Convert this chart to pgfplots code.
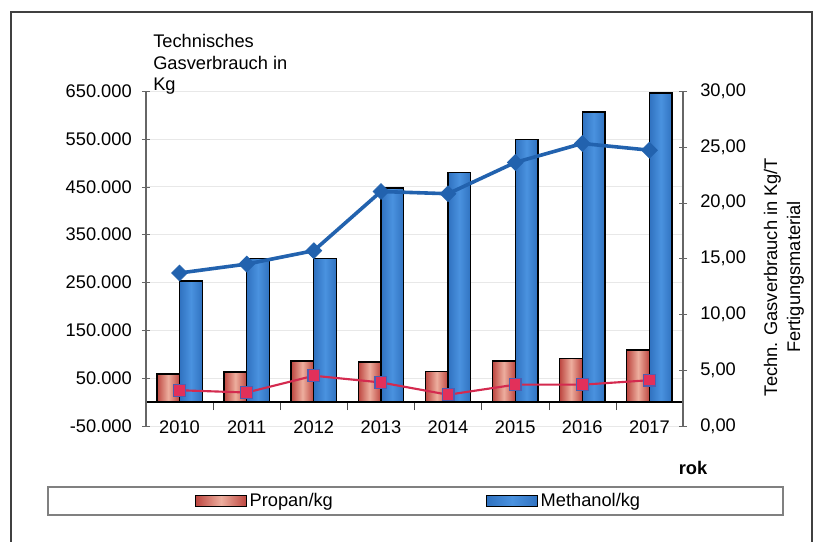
\documentclass[border=0pt]{standalone}
\usepackage{pgfplots}
\pgfplotsset{compat=1.18}
\usepackage{fontspec}
\setmainfont{Liberation Sans}
\definecolor{bbdark}{HTML}{3072C0}
\definecolor{bblight}{HTML}{4A92DF}
\definecolor{redout}{HTML}{BD4640}
\definecolor{redin}{HTML}{EDAE9E}
\definecolor{lineblue}{HTML}{2262AE}
\definecolor{linered}{HTML}{D42A4F}
\definecolor{markred}{HTML}{E2305A}
\definecolor{markedge}{HTML}{4F5DB0}
\newcommand{\ff}{\fontsize{13.7}{16.4}\selectfont}
\pgfplotsset{
  mylegend/.style={legend image code/.code={\draw[##1, line width=0.8pt] (0pt,-3.8pt) rectangle (38pt,3.8pt);}},
  redbar/.style={ybar, bar width=17pt, bar shift=-8.5pt, draw=black, line width=1pt,
    left color=redout, right color=redout, middle color=redin, mylegend},
  bluebar/.style={ybar, bar width=17pt, bar shift=8.5pt, draw=black, line width=1pt,
    left color=bbdark, right color=bbdark, middle color=bblight, mylegend},
}
\begin{document}
\begin{tikzpicture}[x=0.75pt,y=0.75pt]
\useasboundingbox (0,0) rectangle (817,542);
\fill[white] (0,0) rectangle (817,542);
\draw[black!75, line width=1.5pt] (11,-5) -- (11,530) -- (812,530) -- (812,-5);
\draw[black!50, line width=0.8pt] (48,55) rectangle (783,27);

\begin{axis}[
  at={(109.5pt,87pt)}, anchor=south west,
  width=402.75pt, height=251.25pt, scale only axis,
  xmin=-0.5, xmax=7.5, ymin=-50000, ymax=650000,
  axis y line*=left, axis x line*=middle,
  tick align=center,
  xtick={0,...,7}, xticklabels={2010,2011,2012,2013,2014,2015,2016,2017},
  minor xtick={0.5,1.5,...,6.5},
  major x tick style={draw=none},
  minor tick length=6pt,
  minor x tick style={black!70, yshift=-3pt},
  major tick length=6pt,
  ytick={-50000,50000,150000,250000,350000,450000,550000,650000},
  ytick style={black!60},
  scaled y ticks=false,
  /pgf/number format/assume math mode=true,
  /pgf/number format/fixed,
  /pgf/number format/1000 sep={.},
  yticklabel style={font=\ff, inner sep=0pt, xshift=-7.5pt},
  xticklabel style={font=\ff, inner sep=0pt, yshift=-10.5pt},
  y axis line style={black!60, line width=0.8pt},
  x axis line style={black, line width=0.9pt},
  ymajorgrids, major grid style={black!9, line width=0.5pt},
  legend style={at={(axis description cs:0.0912,-0.2239)}, anchor=west,
    draw=none, fill=none, inner sep=0pt, font=\ff,
    /tikz/every even column/.append style={column sep=113pt}},
  legend columns=2,
  clip=false,
]
% Propan/kg
\addplot[redbar] coordinates {(0,59000)};
\addlegendentry{Propan/kg}
% Methanol/kg
\addplot[bluebar] coordinates {(0,253000)};
\addlegendentry{Methanol/kg}
\addplot[redbar, forget plot] coordinates {(1,63000)};
\addplot[redbar, forget plot] coordinates {(2,86000)};
\addplot[redbar, forget plot] coordinates {(3,84000)};
\addplot[redbar, forget plot] coordinates {(4,64000)};
\addplot[redbar, forget plot] coordinates {(5,86000)};
\addplot[redbar, forget plot] coordinates {(6,91000)};
\addplot[redbar, forget plot] coordinates {(7,109000)};
\addplot[bluebar, forget plot] coordinates {(1,300000)};
\addplot[bluebar, forget plot] coordinates {(2,300000)};
\addplot[bluebar, forget plot] coordinates {(3,447000)};
\addplot[bluebar, forget plot] coordinates {(4,480000)};
\addplot[bluebar, forget plot] coordinates {(5,548000)};
\addplot[bluebar, forget plot] coordinates {(6,606000)};
\addplot[bluebar, forget plot] coordinates {(7,646000)};
\end{axis}

\begin{axis}[
  at={(109.5pt,87pt)}, anchor=south west,
  width=402.75pt, height=251.25pt, scale only axis,
  xmin=-0.5, xmax=7.5, ymin=0, ymax=30,
  axis y line*=right, axis x line=none,
  tick align=center, major tick length=6pt,
  ytick={0,5,...,30},
  ytick style={black!60},
  /pgf/number format/assume math mode=true,
  /pgf/number format/fixed,
  /pgf/number format/fixed zerofill,
  /pgf/number format/precision=2,
  /pgf/number format/use comma,
  yticklabel style={font=\ff, inner sep=0pt, xshift=9.75pt},
  y axis line style={black!60, line width=0.8pt},
  clip=false,
]
\addplot[linered, line width=1.6pt, mark=square*, mark size=4.4pt,
  mark options={fill=markred, draw=markedge, line width=0.9pt}]
  coordinates {(0,3.2) (1,3.0) (2,4.5) (3,3.9) (4,2.8) (5,3.7) (6,3.7) (7,4.1)};
\addplot[lineblue, line width=2.7pt, mark=square*, mark size=4.2pt,
  mark options={fill=lineblue, draw=lineblue, rotate=45, line width=0.5pt}]
  coordinates {(0,13.7) (1,14.5) (2,15.7) (3,21.0) (4,20.8) (5,23.6) (6,25.3) (7,24.7)};
\end{axis}

\node[anchor=base west, font=\ff, inner sep=0pt] at (153,494) {Technisches};
\node[anchor=base west, font=\ff, inner sep=0pt] at (153,472.5) {Gasverbrauch in};
\node[anchor=base west, font=\ff, inner sep=0pt] at (153,451) {Kg};
\node[font=\ff\bfseries, inner sep=0pt] at (693,74) {rok};
\node[rotate=90, anchor=base, font=\ff, inner sep=0pt] at (777,265) {Techn. Gasverbrauch in Kg/T};
\node[rotate=90, anchor=base, font=\ff, inner sep=0pt] at (800,265) {Fertigungsmaterial};
\end{tikzpicture}
\end{document}
